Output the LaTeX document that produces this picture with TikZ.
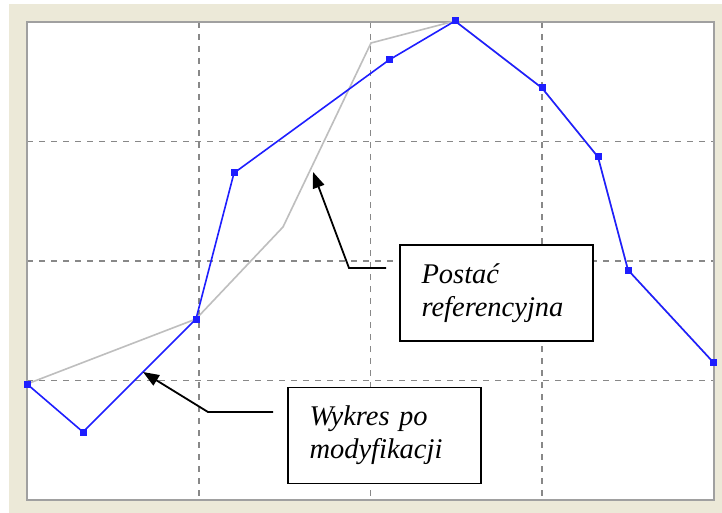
\documentclass[tikz,border=0pt]{standalone}
\usepackage{fontspec}
\setmainfont{Liberation Serif}
\usepackage{tikz}
\usetikzlibrary{positioning, arrows.meta, calc}

\definecolor{panel}{HTML}{ECE9D8}
\definecolor{framegray}{HTML}{A0A0A0}
\definecolor{gridgray}{HTML}{888888}
\definecolor{refgray}{HTML}{BEBEBE}
\definecolor{plotblue}{HTML}{1E1EFF}

\tikzset{
    marker/.style={rectangle, fill=plotblue, inner sep=0pt, minimum size=7pt},
    labelbox/.style={draw=black, line width=1.8pt, fill=white, align=left,
        text width=150pt, minimum width=193pt, minimum height=96pt,
        font=\fontsize{28.5}{33}\selectfont\itshape},
    pointer/.style={-{Triangle[length=16pt, width=12pt]}, line width=1.8pt}
}

\begin{document}
\begin{tikzpicture}[x=1pt, y=-1pt]
            \def\left{27}
            \def\right{714}
            \def\top{22}
            \def\bottom{500}

            \useasboundingbox (0,0) rectangle (722,513);
            \fill[panel] (9,4) rectangle (722,513);
            \fill[white] (\left,\top) rectangle (\right,\bottom);

            % draw vertical lines
            \foreach \x in {1,...,3}
            {
                \draw[gridgray, line width=1.8pt, dash pattern=on 6pt off 6pt]
                    ({\left + \x * (\right - \left) / 4}, \top) -- ({\left + \x * (\right - \left) / 4}, \bottom);
            }

            % draw horizontal lines
            \foreach \y in {1,...,3}
            {
                \draw[gridgray, line width=1.8pt, dash pattern=on 6pt off 6pt]
                    (\left, {\top + \y * (\bottom - \top) / 4}) -- (\right, {\top + \y * (\bottom - \top) / 4});
            }

            % border
            \draw[framegray, line width=2.5pt] (\left,\top) rectangle (\right,\bottom);

            % points of the modified curve
            \foreach \n/\a/\b in {0/27/384,1/83/432,2/196/319,3/234/173,4/389/60,
                                  5/455/21,6/542/88,7/598/157,8/628/270,9/713/362}{
                \coordinate (m\n) at (\a,\b);
            }
            \coordinate (r1) at (283,227);
            \coordinate (r2) at (371,43);

            % reference curve
            \draw[refgray, line width=1.6pt]
                (m0) -- (m2) -- (r1) -- (r2) -- (m5) -- (m6) -- (m7) -- (m8) -- (m9);

            % modified curve
            \draw[plotblue, line width=1.6pt]
                (m0) \foreach \i in {1,...,9} { -- (m\i) };
            \foreach \i in {0,...,9}{
                \node[marker] (dot\i) at (m\i) {};
            }

            % labels
            \node[labelbox] (refbox) at (496.5,293) {Postać\\referencyjna};
            \node[labelbox] (modbox) at (384.5,435.5) {Wykres po\\modyfikacji};

            \coordinate (refstart) at (386,268);
            \coordinate (refbend) at (349,268);
            \coordinate (reftip) at (313,172);
            \coordinate (modstart) at (273,412);
            \coordinate (modbend) at (208,412);
            \coordinate (modtip) at (143,372);

            \draw[pointer] (refstart) -- (refbend) -- (reftip);
            \draw[pointer] (modstart) -- (modbend) -- (modtip);
        \end{tikzpicture}
\end{document}
